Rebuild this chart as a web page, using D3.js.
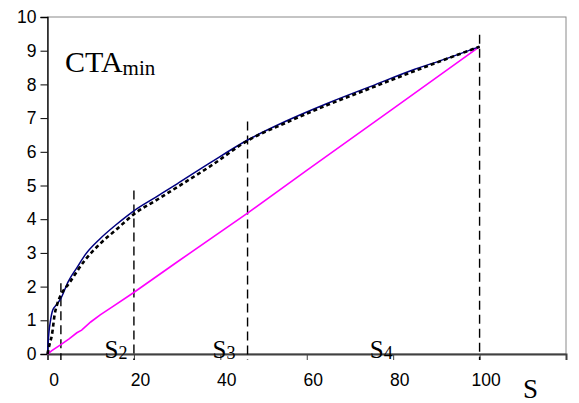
<!DOCTYPE html>
<html>
<head>
<meta charset="utf-8">
<script src="https://cdn.jsdelivr.net/npm/d3@7"></script>
<style>
  body { margin: 0; background: #fff; }
  svg { display: block; }
</style>
</head>
<body>
<div id="chart"></div>
<script>
// data
const xTicks = [0, 20, 40, 60, 80, 100, 120];
const xTickLabels = ["0", "20", "40", "60", "80", "100", ""];
const yTicks = [0, 1, 2, 3, 4, 5, 6, 7, 8, 9, 10];

// blue solid curve
const blueX = [0, 0.3, 0.7, 1.2, 2, 3.1, 4.8, 7, 8.7, 12, 16, 20, 25, 30, 37.6, 46.3, 55, 65, 75, 85, 92, 100];
const blueY = [0, 0.6, 1.0, 1.3, 1.45, 1.65, 2.15, 2.6, 2.94, 3.4, 3.85, 4.25, 4.65, 5.05, 5.67, 6.35, 6.9, 7.45, 7.95, 8.45, 8.75, 9.12];

// black dotted curve
const dotX = [0, 0.5, 1, 1.7, 2.3, 3.1, 5, 8.7, 12, 16, 20, 25, 30, 38, 46.3, 55, 65, 75, 85, 100];
const dotY = [0, 0.3, 0.55, 1.2, 1.5, 1.75, 2.1, 2.79, 3.25, 3.7, 4.15, 4.55, 4.95, 5.6, 6.33, 6.85, 7.4, 7.9, 8.4, 9.12];

// magenta line
const magX = [0, 1, 3, 5, 6.8, 7.9, 10, 12.2, 15, 19.8, 30, 46.3, 60, 80, 100];
const magY = [0, 0.1, 0.27, 0.45, 0.63, 0.71, 0.95, 1.16, 1.4, 1.81, 2.73, 4.18, 5.45, 7.28, 9.12];

// dashed dividers S1..S4
const divX = [3.1, 20, 46.3, 100];
const divTop = [2.1, 4.85, 6.9, 9.47];

const sLabels = ["2", "3", "4"];
const sLabelX = [13.2, 38.2, 74.6];

const width = 579, height = 403;
const svg = d3.select("#chart").append("svg")
    .attr("width", width)
    .attr("height", height);

const x = d3.scaleLinear().domain([0, 120]).range([47.5, 566]);
const y = d3.scaleLinear().domain([0, 10]).range([354, 17]);

// plot frame
svg.append("rect")
    .attr("x", x(0)).attr("y", y(10))
    .attr("width", x(120) - x(0)).attr("height", y(0) - y(10))
    .attr("fill", "none").attr("stroke", "#8a8a8a").attr("stroke-width", 1);

// axes
const yAxis = d3.axisLeft(y).tickValues(yTicks).tickSize(7).tickPadding(4);
const gy = svg.append("g").attr("transform", `translate(${x(0)},0)`).call(yAxis);
gy.select(".domain").attr("stroke", "#000").attr("stroke-width", 1.3);
gy.selectAll(".tick line").attr("stroke", "#000");
gy.selectAll("text")
    .attr("font-family", "'Liberation Sans', Arial, sans-serif")
    .attr("font-size", 17.5).attr("fill", "#000");

const xAxis = d3.axisBottom(x).tickValues(xTicks)
    .tickFormat((d, i) => xTickLabels[i]).tickSize(6).tickPadding(14);
const gx = svg.append("g").attr("transform", `translate(0,${y(0)})`).call(xAxis);
gx.select(".domain").attr("stroke", "#404040").attr("stroke-width", 2);
gx.selectAll(".tick line").attr("stroke", "#404040");
gx.selectAll("text")
    .attr("dx", 6)
    .attr("font-family", "'Liberation Sans', Arial, sans-serif")
    .attr("font-size", 17.5).attr("fill", "#000");

// dashed dividers
svg.selectAll(".div").data(divX).enter().append("line")
    .attr("x1", d => x(d)).attr("x2", d => x(d))
    .attr("y1", (d, i) => y(divTop[i])).attr("y2", y(0) + 6)
    .attr("stroke", "#000").attr("stroke-width", 1.4)
    .attr("stroke-dasharray", "9,5");

const line = d3.line().x(d => x(d[0])).y(d => y(d[1]));

svg.append("path")
    .datum(magX.map((v, i) => [v, magY[i]]))
    .attr("d", line).attr("fill", "none")
    .attr("stroke", "#ff00ff").attr("stroke-width", 1.6);

svg.append("path")
    .datum(blueX.map((v, i) => [v, blueY[i]]))
    .attr("d", line.curve(d3.curveMonotoneX)).attr("fill", "none")
    .attr("stroke", "#000080").attr("stroke-width", 1.5);

svg.append("path")
    .datum(dotX.map((v, i) => [v, dotY[i]]))
    .attr("d", line.curve(d3.curveMonotoneX)).attr("fill", "none")
    .attr("stroke", "#000").attr("stroke-width", 2.6)
    .attr("stroke-dasharray", "4,3");

// labels
const serif = "'Liberation Serif', 'Times New Roman', serif";

const cta = svg.append("text")
    .attr("x", 65).attr("y", 72)
    .attr("font-family", serif).attr("font-size", 30).attr("fill", "#000");
cta.append("tspan").text("CTA");
cta.append("tspan").attr("font-size", 21).attr("dy", 3).text("min");

sLabels.forEach((s, i) => {
    const t = svg.append("text")
        .attr("x", x(sLabelX[i])).attr("y", 358)
        .attr("font-family", serif).attr("font-size", 25).attr("fill", "#000");
    t.append("tspan").text("S");
    t.append("tspan").attr("font-size", 18).attr("dy", 1).text(s);
});

svg.append("text")
    .attr("x", 523).attr("y", 398)
    .attr("font-family", serif).attr("font-size", 27).attr("fill", "#000")
    .text("S");
</script>
</body>
</html>
